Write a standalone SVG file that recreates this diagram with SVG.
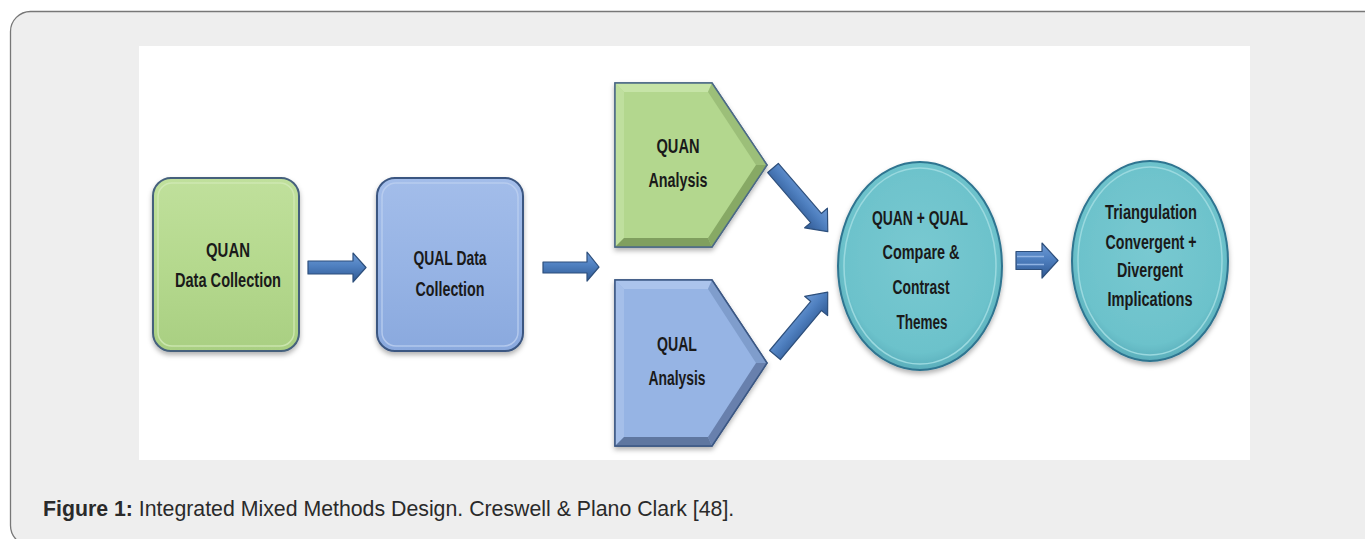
<svg xmlns="http://www.w3.org/2000/svg" width="1365" height="539" viewBox="0 0 1365 539">
<defs>
<style>
.lbl{font-family:"Liberation Sans",Arial,sans-serif;font-weight:bold;font-size:20px;fill:#1a1a1a;text-anchor:middle}
.cap{font-family:"Liberation Sans",Arial,sans-serif;font-size:21.3px;fill:#2a2a2a}
.arrow{fill:url(#gArrow);stroke:#2d4f7c;stroke-width:1.2;stroke-linejoin:round}
</style>
<linearGradient id="gArrow" x1="0" y1="0" x2="0" y2="1">
<stop offset="0" stop-color="#6f9bd6"/>
<stop offset="0.45" stop-color="#4f80c0"/>
<stop offset="1" stop-color="#2f5892"/>
</linearGradient>
<linearGradient id="gGreen" x1="0" y1="0" x2="0" y2="1">
<stop offset="0" stop-color="#c0e09c"/>
<stop offset="0.5" stop-color="#b5d98e"/>
<stop offset="1" stop-color="#a9cf82"/>
</linearGradient>
<linearGradient id="gBlue" x1="0" y1="0" x2="0" y2="1">
<stop offset="0" stop-color="#a3bdea"/>
<stop offset="0.5" stop-color="#97b4e5"/>
<stop offset="1" stop-color="#8aa9de"/>
</linearGradient>
<radialGradient id="gTeal" cx="0.5" cy="0.45" r="0.55">
<stop offset="0" stop-color="#79c9d1"/>
<stop offset="0.85" stop-color="#6cc2cb"/>
<stop offset="1" stop-color="#5aaebb"/>
</radialGradient>
<filter id="shadow" x="-10%" y="-10%" width="120%" height="125%">
<feDropShadow dx="0" dy="3" stdDeviation="2.5" flood-color="#000" flood-opacity="0.3"/>
</filter>
</defs>

<!-- page frame -->
<rect x="0" y="0" width="1365" height="539" fill="#ffffff"/>
<rect x="10.5" y="11.5" width="1380" height="534" rx="20" ry="20" fill="#eeeeee" stroke="#777777" stroke-width="1.3"/>
<rect x="139" y="46" width="1111" height="414" fill="#ffffff"/>

<g id="connectors">
<path class="arrow" d="M308,261 L353,261 L353,253 L366,267.5 L353,282 L353,274 L308,274 Z"/>
<path class="arrow" d="M543,262 L587,262 L587,252 L599,267 L587,281 L587,273 L543,273 Z"/>
<path class="arrow" transform="translate(773,168) rotate(49.3)" d="M0,-7 L66,-7 L66,-15 L84,0 L66,15 L66,7 L0,7 Z"/>
<path class="arrow" transform="translate(775,355) rotate(-50)" d="M0,-7 L64,-7 L64,-15 L82,0 L64,15 L64,7 L0,7 Z"/>
<path class="arrow" d="M1016,251.5 L1042,251.5 L1042,243 L1058,260.5 L1042,278 L1042,269.5 L1016,269.5 Z"/>
<path d="M1017,256.5 L1044,256.5 M1017,264.5 L1044,264.5" stroke="#8fb3e3" stroke-width="1.5" fill="none"/>
</g>

<g id="quan-data-collection">
<rect x="153" y="178" width="146" height="173" rx="18" ry="18" fill="url(#gGreen)" stroke="#45617c" stroke-width="2" filter="url(#shadow)"/>
<rect x="158" y="183" width="136" height="163" rx="14" ry="14" fill="none" stroke="#d2eab8" stroke-width="1.5" opacity="0.8"/>
<text class="lbl" x="228" y="257" textLength="44" lengthAdjust="spacingAndGlyphs">QUAN</text>
<text class="lbl" x="228" y="287" textLength="106" lengthAdjust="spacingAndGlyphs">Data Collection</text>
</g>

<g id="qual-data-collection">
<rect x="377" y="178" width="146" height="173" rx="18" ry="18" fill="url(#gBlue)" stroke="#3b5681" stroke-width="2" filter="url(#shadow)"/>
<rect x="382" y="183" width="136" height="163" rx="14" ry="14" fill="none" stroke="#bdd0f0" stroke-width="1.5" opacity="0.8"/>
<text class="lbl" x="450" y="265" textLength="73" lengthAdjust="spacingAndGlyphs">QUAL Data</text>
<text class="lbl" x="450" y="296" textLength="69" lengthAdjust="spacingAndGlyphs">Collection</text>
</g>

<g id="quan-analysis">
<g filter="url(#shadow)">
<polygon points="615,83 712,83 767,165 712,247 615,247" fill="#b3d78e" stroke="#4c6a87" stroke-width="1.5"/>
</g>
<polygon points="615,83 712,83 708,92 624,92" fill="#c6e4a7"/>
<polygon points="615,83 624,92 624,238 615,247" fill="#bfdf9e"/>
<polygon points="712,83 767,165 756,165 708,92" fill="#9cbf79"/>
<polygon points="767,165 712,247 708,238 756,165" fill="#87a965"/>
<polygon points="712,247 615,247 624,238 708,238" fill="#809f5f"/>
<polygon points="615,83 712,83 767,165 712,247 615,247" fill="none" stroke="#4c6a87" stroke-width="1.5"/>
<text class="lbl" x="678" y="153" textLength="43" lengthAdjust="spacingAndGlyphs">QUAN</text>
<text class="lbl" x="678" y="187" textLength="59" lengthAdjust="spacingAndGlyphs">Analysis</text>
</g>

<g id="qual-analysis">
<g filter="url(#shadow)">
<polygon points="615,280 712,280 767,363 712,446 615,446" fill="#96b4e4" stroke="#3c5884" stroke-width="1.5"/>
</g>
<polygon points="615,280 712,280 708,289 624,289" fill="#abc4ec"/>
<polygon points="615,280 624,289 624,437 615,446" fill="#a5bfe9"/>
<polygon points="712,280 767,363 756,363 708,289" fill="#7f9dcc"/>
<polygon points="767,363 712,446 708,437 756,363" fill="#6880ad"/>
<polygon points="712,446 615,446 624,437 708,437" fill="#5f77a0"/>
<polygon points="615,280 712,280 767,363 712,446 615,446" fill="none" stroke="#3c5884" stroke-width="1.5"/>
<text class="lbl" x="677" y="351" textLength="40" lengthAdjust="spacingAndGlyphs">QUAL</text>
<text class="lbl" x="677" y="385" textLength="57" lengthAdjust="spacingAndGlyphs">Analysis</text>
</g>

<g id="compare-contrast">
<ellipse cx="920" cy="266" rx="82" ry="104" fill="url(#gTeal)" stroke="#2f7490" stroke-width="2" filter="url(#shadow)"/>
<ellipse cx="920" cy="266" rx="76" ry="98" fill="none" stroke="#9ad9df" stroke-width="1.5"/>
<text class="lbl" x="920" y="225" textLength="96" lengthAdjust="spacingAndGlyphs">QUAN + QUAL</text>
<text class="lbl" x="921" y="259" textLength="77" lengthAdjust="spacingAndGlyphs">Compare &amp;</text>
<text class="lbl" x="921" y="294" textLength="57" lengthAdjust="spacingAndGlyphs">Contrast</text>
<text class="lbl" x="922" y="329" textLength="51" lengthAdjust="spacingAndGlyphs">Themes</text>
</g>

<g id="triangulation">
<ellipse cx="1150" cy="261" rx="78" ry="100" fill="url(#gTeal)" stroke="#2f7490" stroke-width="2" filter="url(#shadow)"/>
<ellipse cx="1150" cy="261" rx="72" ry="94" fill="none" stroke="#9ad9df" stroke-width="1.5"/>
<text class="lbl" x="1151" y="219" textLength="92" lengthAdjust="spacingAndGlyphs">Triangulation</text>
<text class="lbl" x="1151" y="249" textLength="91" lengthAdjust="spacingAndGlyphs">Convergent +</text>
<text class="lbl" x="1150" y="277" textLength="66" lengthAdjust="spacingAndGlyphs">Divergent</text>
<text class="lbl" x="1150" y="306" textLength="85" lengthAdjust="spacingAndGlyphs">Implications</text>
</g>

<text class="cap" x="43" y="516"><tspan font-weight="bold">Figure 1:</tspan> Integrated Mixed Methods Design. Creswell &amp; Plano Clark [48].</text>
</svg>
